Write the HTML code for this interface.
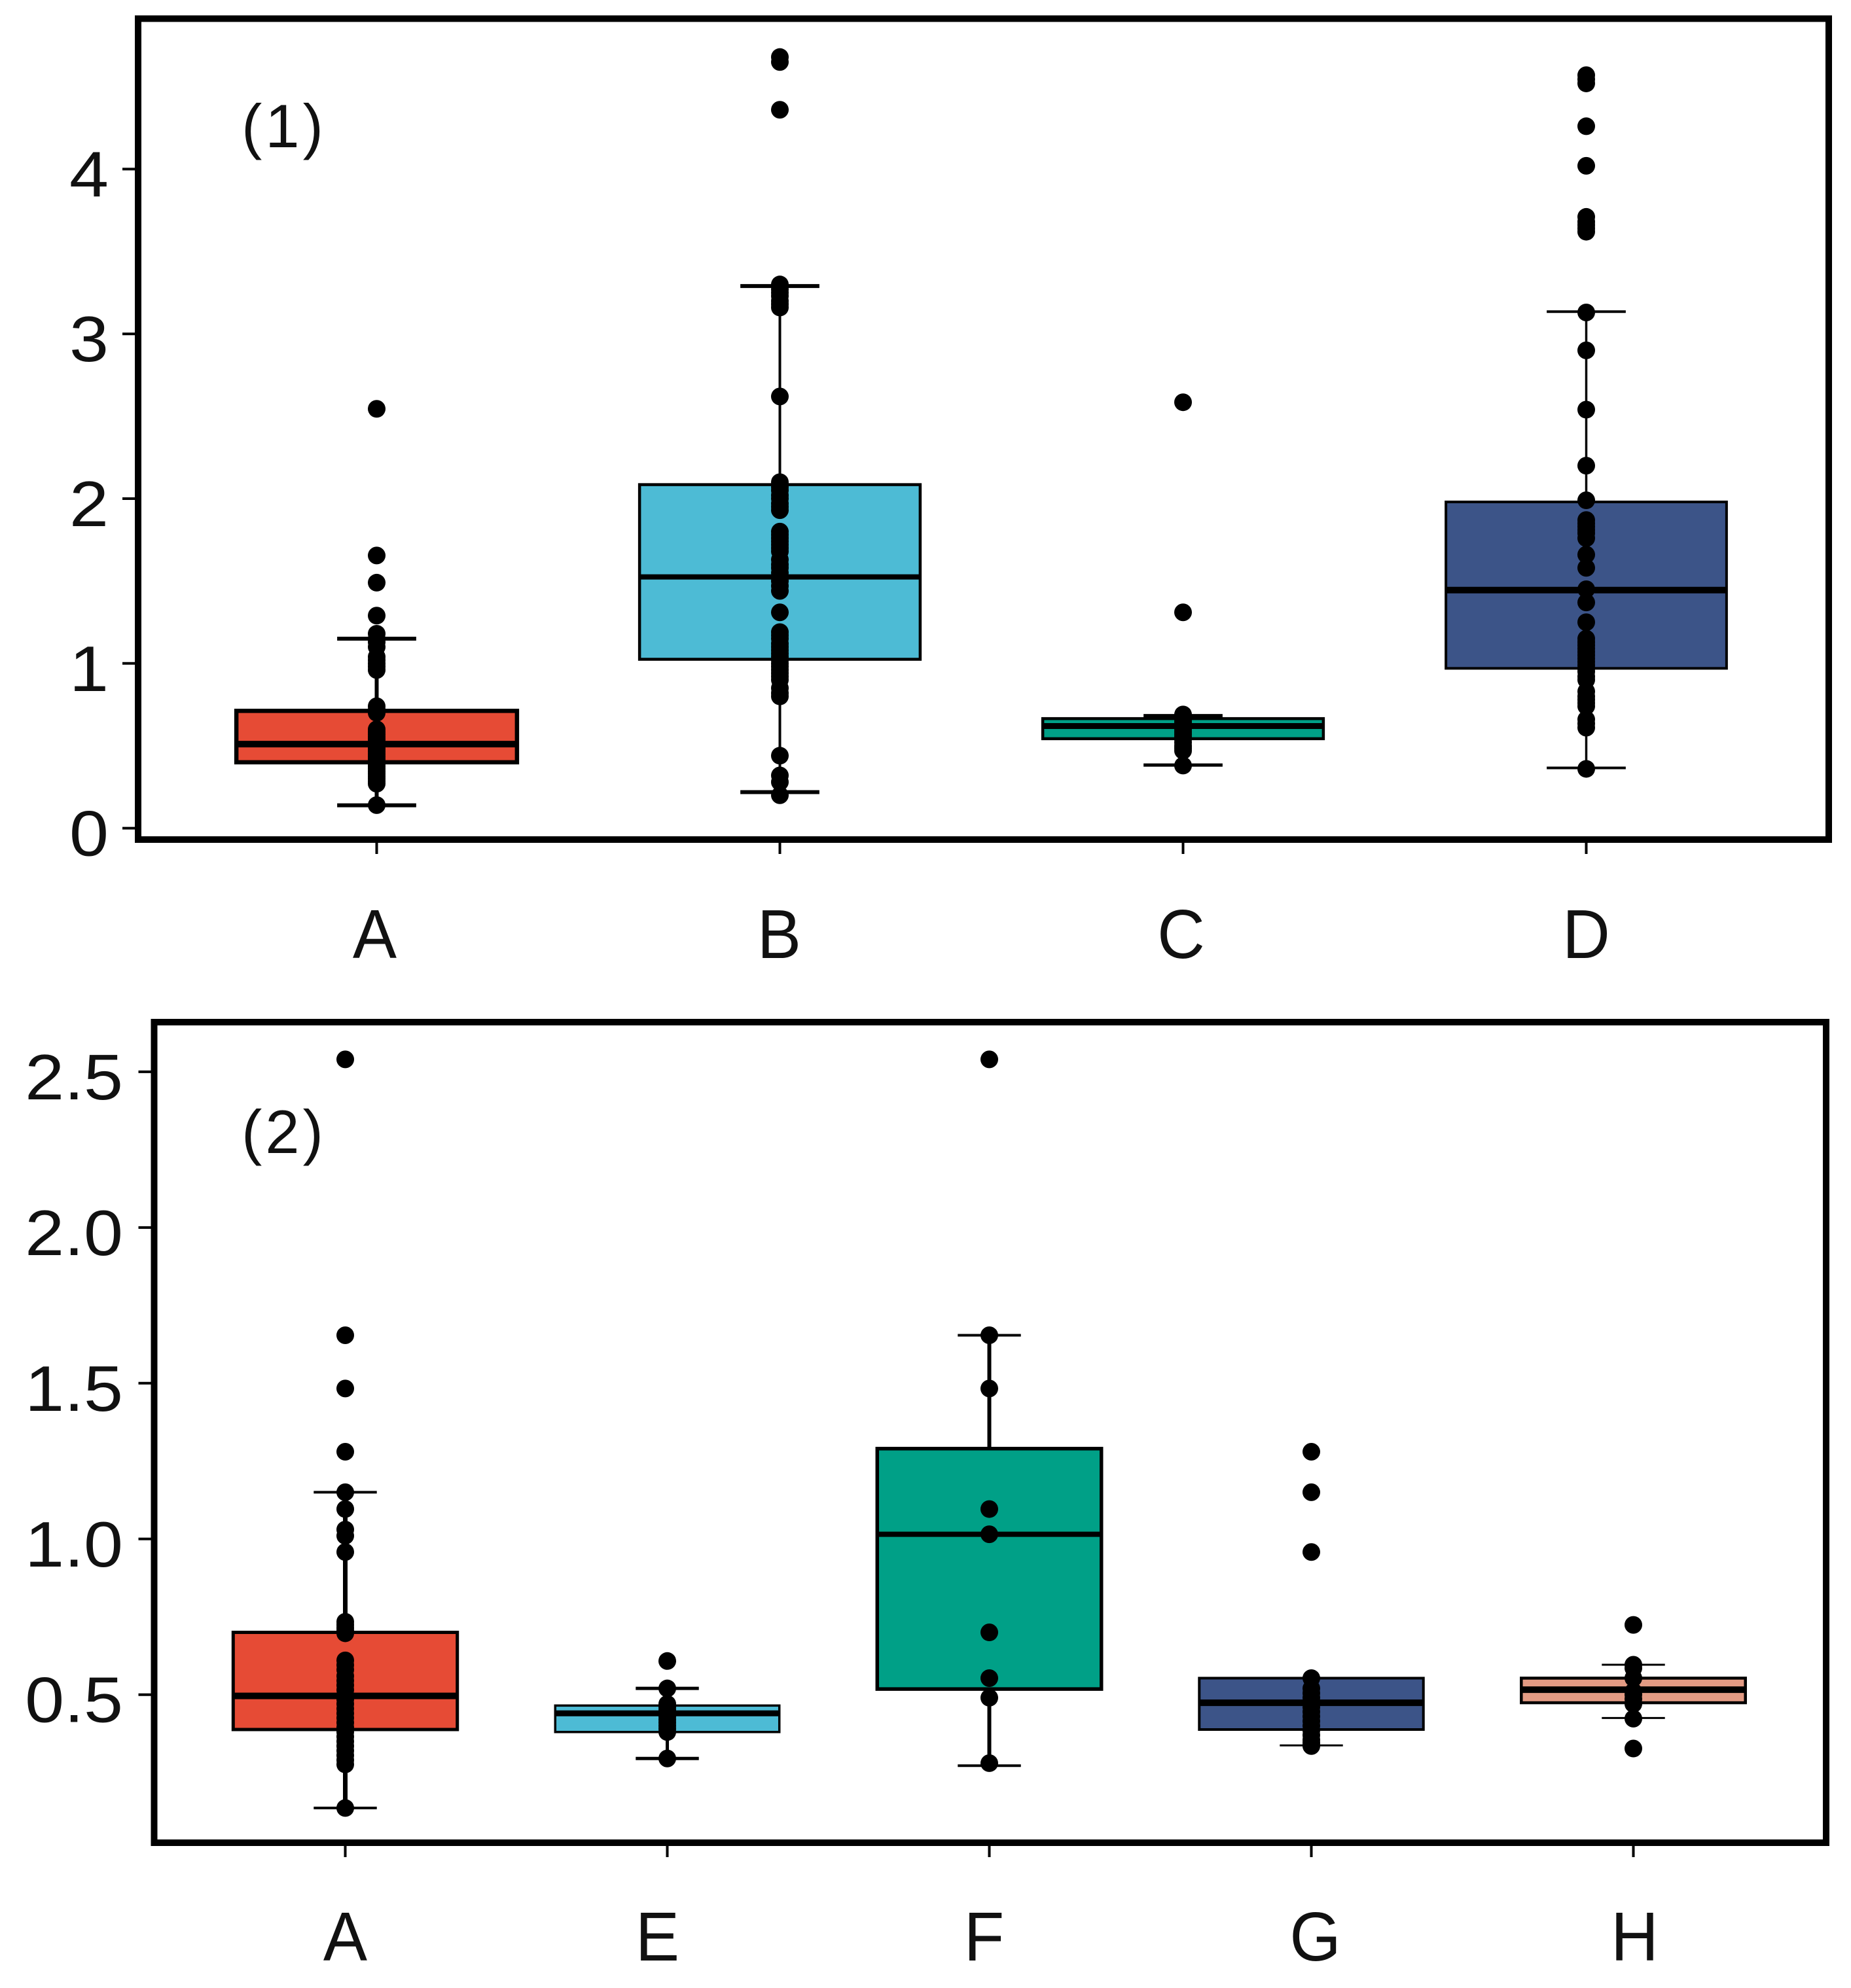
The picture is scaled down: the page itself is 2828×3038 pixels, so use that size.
<!DOCTYPE html>
<html lang="en">
<head>
<meta charset="utf-8">
<title>Box plots</title>
<style>
html,body{margin:0;padding:0;background:#fff;}
svg{display:block;}
text{font-family:"Liberation Sans",Arial,sans-serif;fill:#111;}
</style>
</head>
<body>
<svg id="chart" xmlns="http://www.w3.org/2000/svg" width="2828" height="3038" viewBox="0 0 2828 3038">
  <rect x="0" y="0" width="2828" height="3038" fill="#fff"/>
  <g id="panel1"></g>
  <g id="panel2"></g>
</svg>
<script>
// ---- Panel 1 data ----
const p1Categories = ['A','B','C','D'];
const p1Ticks = [0,1,2,3,4];
const p1TickLabels = ['0','1','2','3','4'];
const p1Lower = [0.139,0.219,0.383,0.366];
const p1Q1 = [0.40,1.025,0.543,0.97];
const p1Median = [0.51,1.525,0.62,1.445];
const p1Q3 = [0.712,2.085,0.665,1.98];
const p1Upper = [1.15,3.29,0.683,3.135];
const p1PointsA = [2.545,1.655,1.49,1.29,1.18,1.15,1.13,1.10,1.04,1.02,1.0,0.98,0.96,0.74,0.72,0.70,0.60,0.585,0.57,0.555,0.54,0.525,0.51,0.495,0.48,0.465,0.45,0.435,0.42,0.405,0.39,0.375,0.36,0.345,0.33,0.315,0.30,0.285,0.27,0.14];
const p1PointsB = [4.68,4.65,4.36,3.30,3.27,3.25,3.23,3.20,3.18,3.16,2.62,2.10,2.07,2.05,2.02,2.0,1.97,1.95,1.93,1.80,1.78,1.76,1.74,1.72,1.70,1.68,1.63,1.60,1.58,1.55,1.52,1.50,1.47,1.44,1.31,1.19,1.17,1.15,1.12,1.10,1.08,1.06,1.04,1.02,1.0,0.98,0.96,0.94,0.92,0.90,0.85,0.82,0.80,0.44,0.32,0.28,0.20];
const p1PointsC = [2.585,1.31,0.69,0.675,0.66,0.645,0.63,0.615,0.60,0.585,0.57,0.555,0.54,0.52,0.50,0.485,0.47,0.38];
const p1PointsD = [4.57,4.545,4.52,4.26,4.02,3.71,3.68,3.66,3.64,3.62,3.13,2.90,2.54,2.2,1.99,1.87,1.85,1.83,1.81,1.79,1.76,1.66,1.58,1.45,1.37,1.25,1.15,1.13,1.11,1.09,1.07,1.05,1.03,1.01,0.99,0.97,0.95,0.92,0.90,0.83,0.80,0.78,0.76,0.74,0.66,0.635,0.61,0.36];

// ---- Panel 2 data ----
const p2Categories = ['A','E','F','G','H'];
const p2Ticks = [0.5,1.0,1.5,2.0,2.5];
const p2TickLabels = ['0.5','1.0','1.5','2.0','2.5'];
const p2Lower = [0.136,0.295,0.272,0.337,0.425];
const p2Q1 = [0.388,0.38,0.518,0.388,0.474];
const p2Median = [0.496,0.44,1.015,0.474,0.516];
const p2Q3 = [0.70,0.465,1.29,0.553,0.553];
const p2Upper = [1.15,0.52,1.654,0.553,0.596];
const p2PointsA = [2.54,1.654,1.483,1.28,1.15,1.096,1.03,1.01,0.958,0.734,0.724,0.714,0.705,0.697,0.61,0.595,0.58,0.56,0.545,0.53,0.515,0.50,0.485,0.47,0.455,0.44,0.425,0.41,0.395,0.38,0.365,0.35,0.335,0.32,0.305,0.29,0.276,0.136];
const p2PointsE = [0.608,0.52,0.47,0.46,0.45,0.44,0.43,0.42,0.41,0.40,0.39,0.38,0.295];
const p2PointsF = [2.54,1.654,1.483,1.096,1.015,0.70,0.553,0.49,0.28];
const p2PointsG = [1.28,1.15,0.958,0.553,0.52,0.505,0.49,0.475,0.46,0.445,0.43,0.415,0.40,0.385,0.37,0.355,0.345,0.335];
const p2PointsH = [0.724,0.596,0.585,0.553,0.51,0.50,0.486,0.47,0.423,0.327];

const SVGNS = 'http://www.w3.org/2000/svg';
function mk(parent, tag, attrs){
  const el = document.createElementNS(SVGNS, tag);
  for (const k in attrs) el.setAttribute(k, attrs[k]);
  parent.appendChild(el);
  return el;
}

function drawPanel(root, d){
  const y = v => d.y0 - (v - d.v0) * d.pxPerUnit;
  const x = i => d.x0 + i * d.step;
  const halfBox = d.step * 0.348;
  const halfCap = d.step * 0.098;
  const colors = d.colors;

  // y ticks and labels
  d.ticks.forEach((t, i) => {
    const tick = mk(root, 'line', {x1:d.left-d.tickLen, x2:d.left, y1:y(t), y2:y(t), stroke:'#000', 'stroke-width':4});
    
    
    const lab = mk(root, 'text', {'text-anchor':'end', 'font-size':98, transform:'translate('+d.labelRight+','+(y(t)+42)+') scale(1.1,1)'});
    lab.textContent = d.tickLabels[i];
    
    
  });

  // categories
  d.categories.forEach((c, i) => {
    const cx = x(i);
    const g = mk(root, 'g', {});
    
    

    const whisker = mk(g, 'line', {x1:cx, x2:cx, y1:y(d.upper[i]), y2:y(d.lower[i]), stroke:'#000', 'stroke-width':d.whiskerW[i]});
    
    

    const box = mk(g, 'rect', {x:cx-halfBox, y:y(d.q3[i]), width:halfBox*2, height:y(d.q1[i])-y(d.q3[i]), fill:colors[i], stroke:'#000', 'stroke-width':d.boxW[i]});
    
    

    const med = mk(g, 'line', {x1:cx-halfBox, x2:cx+halfBox, y1:y(d.median[i]), y2:y(d.median[i]), stroke:'#000', 'stroke-width':d.medianW[i]});
    
    

    const capU = mk(g, 'line', {x1:cx-halfCap, x2:cx+halfCap, y1:y(d.upper[i]), y2:y(d.upper[i]), stroke:'#000', 'stroke-width':d.capW[i]});
    
    

    const capL = mk(g, 'line', {x1:cx-halfCap, x2:cx+halfCap, y1:y(d.lower[i]), y2:y(d.lower[i]), stroke:'#000', 'stroke-width':d.capW[i]});
    
    

    d.points[i].forEach(v => {
      const p = mk(g, 'circle', {cx:cx, cy:y(v), r:13.5, fill:'#000'});
      
      
    });

    const xt = mk(root, 'line', {x1:cx, x2:cx, y1:d.bottom, y2:d.bottom+d.xTickLen, stroke:'#000', 'stroke-width':4});
    
    

    const xl = mk(root, 'text', {'text-anchor':'middle', 'font-size':106, transform:'translate('+(cx+d.labelShift[i])+','+d.xLabelY+') scale(0.95,1)'});
    xl.textContent = c;
    
    
  });

  // frame
  const frame = mk(root, 'rect', {x:d.left, y:d.top, width:d.right-d.left, height:d.bottom-d.top, fill:'none', stroke:'#000', 'stroke-width':10});
  
  

  // panel tag
  const tag = mk(root, 'text', {x:369, y:d.tagY, 'font-size':94, 'letter-spacing':5});
  tag.textContent = d.tag;
  
  
}

drawPanel(document.getElementById('panel1'), {
  categories:p1Categories, ticks:p1Ticks, tickLabels:p1TickLabels,
  lower:p1Lower, q1:p1Q1, median:p1Median, q3:p1Q3, upper:p1Upper,
  points:[p1PointsA,p1PointsB,p1PointsC,p1PointsD],
  colors:['#E64B35','#4DBBD5','#00A087','#3C5488'],
  boxW:[6.5,4.5,4.5,4], medianW:[10,8,9,10], whiskerW:[6,4,5,3.5], capW:[6,6,5,4],
  labelShift:[-3,-1,-3,0],
  y0:1265.6, v0:0, pxPerUnit:251.8, x0:575.5, step:616,
  left:211, right:2794, top:28.5, bottom:1283, tickLen:24, xTickLen:22,
  labelRight:166, xLabelY:1464, tagY:225, tag:'(1)'
});

drawPanel(document.getElementById('panel2'), {
  categories:p2Categories, ticks:p2Ticks, tickLabels:p2TickLabels,
  lower:p2Lower, q1:p2Q1, median:p2Median, q3:p2Q3, upper:p2Upper,
  points:[p2PointsA,p2PointsE,p2PointsF,p2PointsG,p2PointsH],
  colors:['#E64B35','#4DBBD5','#00A087','#3C5488','#E39B84'],
  boxW:[5,3.5,5.5,4,4.5], medianW:[10,9,8,10,10], whiskerW:[7,5,6,5,5], capW:[4,5,4,3,3],
  labelShift:[0,-15,-8,6,2],
  y0:2589.7, v0:0.5, pxPerUnit:475.9, x0:527.5, step:492,
  left:235.5, right:2790, top:1562, bottom:2816, tickLen:24, xTickLen:22,
  labelRight:188, xLabelY:2996, tagY:1762, tag:'(2)'
});
</script>
</body>
</html>
